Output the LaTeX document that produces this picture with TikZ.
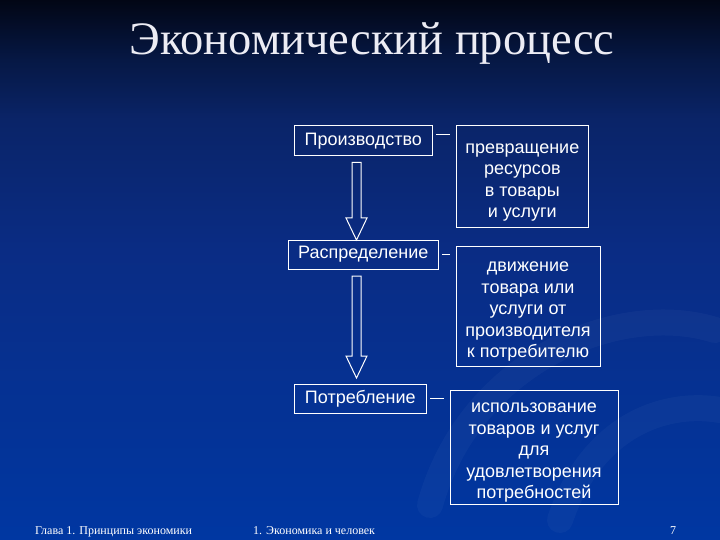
\documentclass[tikz,border=0pt]{standalone}
\usepackage{fontspec}
\setmainfont{Liberation Serif}
\newfontfamily\boxfont{Liberation Sans}
\usepackage{tikz}
\usetikzlibrary{calc}
\definecolor{bgtop}{HTML}{020615}
\definecolor{bghi}{HTML}{061845}
\definecolor{bgup}{HTML}{0A2468}
\definecolor{bgmid}{HTML}{0A2C84}
\definecolor{bgbot}{HTML}{0037A2}
\definecolor{inkc}{HTML}{FFFFFF}
\definecolor{titlec}{HTML}{ECECF4}
\pgfdeclareverticalshading{slidebg}{100bp}{color(0bp)=(bgbot); color(25bp)=(bgbot);
  color(51.9bp)=(bgmid); color(63.9bp)=(bgup); color(69.4bp)=(bghi);
  color(75bp)=(bgtop); color(100bp)=(bgtop)}
\newcommand{\lift}{\rule{0pt}{21pt}}
\tikzset{
  stage/.style={draw=inkc, line width=1pt, text=inkc, inner sep=0pt,
    font=\boxfont\fontsize{18}{21.5}\selectfont},
  note/.style={stage, align=center},
  link/.style={draw=inkc, line width=1pt, shorten <=3pt, shorten >=5.5pt},
  flowarrow/.style={draw=inkc, line width=1pt, line join=miter},
  title/.style={text=titlec, inner sep=0pt, font=\fontsize{46.5}{52}\selectfont},
  footer/.style={text=inkc, inner sep=0pt, font=\fontsize{12}{14}\selectfont},
  swirl/.style={draw=white, opacity=0.03, line width=26pt, line cap=round}
}
% hollow block arrow between two coordinates (vertical)
\newcommand{\hollowarrow}[2]{%
  \draw[flowarrow] let \p1=(#1), \p2=(#2) in
    (\x1-4.5pt,\y1) -- (\x1+4.5pt,\y1) -- (\x1+4.5pt,\y2+22pt) -- (\x1+10.5pt,\y2+22pt)
    -- (\x2,\y2) -- (\x1-10.5pt,\y2+22pt) -- (\x1-4.5pt,\y2+22pt) -- cycle;
}

\begin{document}
\begin{tikzpicture}[x=1pt,y=-1pt]
  \useasboundingbox (0,0) rectangle (720,540);
  \shade[shading=slidebg] (0,0) rectangle (720,540);
  \draw[swirl] (430,505) .. controls (470,360) and (620,300) .. (715,330);
  \draw[swirl] (560,520) .. controls (590,430) and (660,400) .. (720,410);

  \node[title, anchor=base] (ttl) at (372,55) {Экономический процесс};

  % stages
  \node[stage, minimum width=138.5pt, minimum height=29.6pt] (prod) at (363.3,140.8) {Производство};
  \node[stage, minimum width=150.5pt, minimum height=29pt] (distr) at (363.3,254.5) {Распределение};
  \node[stage, minimum width=132.5pt, minimum height=29pt] (cons) at (360.3,398.5) {Потребление};

  % explanations
  \node[note, minimum width=132.6pt, minimum height=102pt] (res1) at (522.3,177)
    {\lift превращение\\ресурсов\\в товары\\и услуги};
  \node[note, minimum width=144pt, minimum height=119.5pt] (res2) at (528,306.3)
    {\lift движение\\товара или\\услуги от\\производителя\\к потребителю};
  \node[note, minimum width=168pt, minimum height=114.5pt] (res3) at (534,447.3)
    {\lift использование\\товаров и услуг\\для\\удовлетворения\\потребностей};

  \draw[link] ([yshift=6pt]prod.east) -- ([yshift=6pt]prod.east -| res1.west);
  \draw[link] (distr.east) -- (distr.east -| res2.west);
  \draw[link] (cons.east) -- (cons.east -| res3.west);

  \coordinate (a1top) at (356.5,162.5);
  \coordinate (a1tip) at (356.5,240);
  \coordinate (a2top) at (356.5,276);
  \coordinate (a2tip) at (356.5,378);
  \hollowarrow{a1top}{a1tip}
  \hollowarrow{a2top}{a2tip}

  % footer
  \node[footer, anchor=base west] (chap) at (35,534) {Глава 1. Принципы экономики};
  \node[footer, anchor=base west] (sect) at (253,534) {1. Экономика и человек};
  \node[footer, anchor=base] (pnum) at (673,534) {7};
\end{tikzpicture}
\end{document}
